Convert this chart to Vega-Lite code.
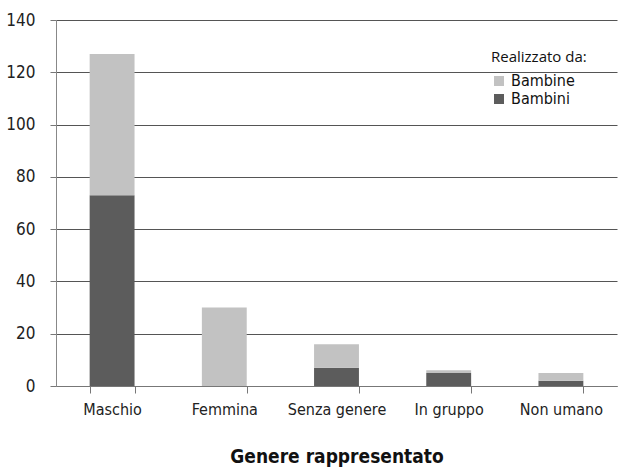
{
  "$schema": "https://vega.github.io/schema/vega-lite/v6.json",
  "width": 561,
  "height": 366,
  "autosize": {"type": "none"},
  "padding": {"left": 56, "top": 20, "right": 4, "bottom": 82},
  "background": "white",
  "data": {
    "values": [
      {"genere": "Maschio", "autore": "Bambini", "n": 73},
      {"genere": "Maschio", "autore": "Bambine", "n": 54},
      {"genere": "Femmina", "autore": "Bambini", "n": 0},
      {"genere": "Femmina", "autore": "Bambine", "n": 30},
      {"genere": "Senza genere", "autore": "Bambini", "n": 7},
      {"genere": "Senza genere", "autore": "Bambine", "n": 9},
      {"genere": "In gruppo", "autore": "Bambini", "n": 5},
      {"genere": "In gruppo", "autore": "Bambine", "n": 1},
      {"genere": "Non umano", "autore": "Bambini", "n": 2},
      {"genere": "Non umano", "autore": "Bambine", "n": 3}
    ]
  },
  "config": {
    "view": {"stroke": null},
    "font": "DejaVu Sans Condensed"
  },
  "mark": {"type": "bar"},
  "encoding": {
    "x": {
      "field": "genere",
      "type": "nominal",
      "sort": ["Maschio", "Femmina", "Senza genere", "In gruppo", "Non umano"],
      "scale": {"paddingInner": 0.6, "paddingOuter": 0.3},
      "axis": {
        "title": "Genere rappresentato",
        "titleFont": "DejaVu Sans Condensed",
        "titleFontSize": 19,
        "titleFontWeight": "bold",
        "titleColor": "#111",
        "titlePadding": 30,
        "labelAngle": 0,
        "labelFont": "DejaVu Sans Condensed",
        "labelFontSize": 16,
        "labelColor": "#222",
        "labelPadding": 8,
        "domainColor": "#777",
        "tickColor": "#777",
        "tickBand": "extent",
        "tickSize": 7
      }
    },
    "y": {
      "field": "n",
      "type": "quantitative",
      "stack": "zero",
      "scale": {"domain": [0, 140]},
      "axis": {
        "title": null,
        "values": [0, 20, 40, 60, 80, 100, 120, 140],
        "labelFont": "DejaVu Sans Condensed",
        "labelFontSize": 17,
        "labelColor": "#222",
        "labelPadding": 15,
        "domainColor": "#888",
        "tickColor": "#777",
        "tickSize": 6,
        "gridColor": "#555",
        "gridWidth": 1
      }
    },
    "color": {
      "field": "autore",
      "type": "nominal",
      "scale": {"domain": ["Bambine", "Bambini"], "range": ["#c2c2c2", "#5c5c5c"]},
      "legend": {
        "title": "Realizzato da:",
        "orient": "none",
        "legendX": 435,
        "legendY": 30,
        "titleFont": "Open Sans",
        "titleFontSize": 15,
        "titleFontWeight": "normal",
        "titleColor": "#111",
        "titlePadding": 8,
        "labelFont": "DejaVu Sans Condensed",
        "labelFontSize": 16,
        "labelColor": "#111",
        "symbolType": "square",
        "symbolSize": 100,
        "symbolStrokeWidth": 0,
        "rowPadding": 2,
        "labelOffset": 4
      }
    },
    "order": {"field": "autore", "sort": "descending"}
  }
}
